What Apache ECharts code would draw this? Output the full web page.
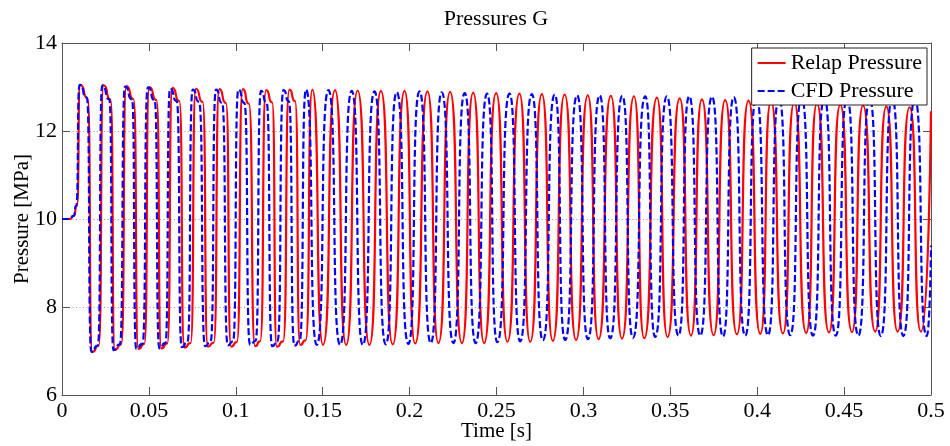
<!DOCTYPE html>
<html>
<head>
<meta charset="utf-8">
<script src="https://cdn.jsdelivr.net/npm/echarts@6/dist/echarts.min.js"></script>
<style>html,body{margin:0;padding:0;background:#fff}#chart{width:950px;height:446px}</style>
</head>
<body>
<div id="chart"></div>
<script>
// Values: [time s, pressure MPa]
const relapPoints = [
 [0,10.0],[0.0045,10.0],[0.0068,10.07],[0.0085,10.3],
 [0.0105,13.05],[0.0147,12.75],[0.0174,6.98],[0.0211,7.12],
 [0.0239,13.04],[0.0279,12.72],[0.0304,7.03],[0.0341,7.15],
 [0.0370,13.02],[0.0412,12.72],[0.0439,7.05],[0.0474,7.16],
 [0.0502,13.00],[0.0544,12.70],[0.0571,7.06],[0.0606,7.17],
 [0.0635,12.98],[0.0675,12.68],[0.0704,7.08],[0.0740,7.18],
 [0.0770,12.96],[0.0809,12.66],[0.0839,7.10],[0.0873,7.19],
 [0.0905,12.95],[0.0943,12.64],[0.0973,7.10],[0.1006,7.20],
 [0.1040,12.95],[0.1075,12.62],[0.1111,7.11],[0.1140,7.22],
 [0.1174,12.93],[0.1209,12.65],[0.1236,7.10],[0.1272,7.22],
 [0.1308,12.94],[0.1341,12.68],[0.1370,7.14],[0.1402,7.24],
 [0.1440,12.94],[0.1502,7.14],
 [0.1571,12.93],[0.1635,7.14],
 [0.1701,12.92],[0.1769,7.14],
 [0.1835,12.91],[0.1903,7.15],
 [0.1971,12.91],[0.2032,7.17],
 [0.2103,12.90],[0.2166,7.18],
 [0.2233,12.89],[0.2301,7.18],
 [0.2366,12.87],[0.2429,7.18],
 [0.2498,12.86],[0.2563,7.21],
 [0.2632,12.85],[0.2694,7.21],
 [0.2761,12.84],[0.2824,7.23],
 [0.2892,12.83],[0.2958,7.25],
 [0.3025,12.81],[0.3087,7.27],
 [0.3158,12.80],[0.3222,7.28],
 [0.3291,12.79],[0.3350,7.29],
 [0.3423,12.76],[0.3484,7.32],
 [0.3554,12.74],[0.3619,7.35],
 [0.3682,12.72],[0.3749,7.36],
 [0.3816,12.70],[0.3883,7.38],
 [0.3950,12.69],[0.4018,7.39],
 [0.4079,12.67],[0.4148,7.40],
 [0.4213,12.65],[0.4282,7.41],
 [0.4344,12.62],[0.4413,7.42],
 [0.4478,12.60],[0.4545,7.43],
 [0.4609,12.58],[0.4679,7.44],
 [0.4743,12.56],[0.4808,7.44],
 [0.4877,12.54],[0.4942,7.44],
 [0.5,12.45]
];
const cfdPoints = [
 [0,10.0],[0.0045,10.0],[0.0066,10.07],[0.0082,10.3],
 [0.0101,13.05],[0.0143,12.76],[0.0169,6.98],[0.0206,7.12],
 [0.0232,13.04],[0.0272,12.72],[0.0296,7.02],[0.0333,7.15],
 [0.0363,13.01],[0.0403,12.72],[0.0427,7.05],[0.0463,7.16],
 [0.0494,12.99],[0.0533,12.70],[0.0560,7.06],[0.0595,7.18],
 [0.0622,12.96],[0.0660,12.68],[0.0689,7.09],[0.0722,7.20],
 [0.0752,12.94],[0.0789,12.66],[0.0823,7.11],[0.0855,7.21],
 [0.0886,12.94],[0.0921,12.64],[0.0954,7.13],[0.0984,7.22],
 [0.1015,12.94],[0.1049,12.64],[0.1082,7.14],[0.1114,7.23],
 [0.1145,12.91],[0.1177,12.65],[0.1209,7.11],[0.1240,7.22],
 [0.1274,12.93],[0.1305,12.68],[0.1337,7.12],[0.1367,7.23],
 [0.1404,12.94],[0.1466,7.14],
 [0.1533,12.93],[0.1600,7.14],
 [0.1667,12.91],[0.1731,7.14],
 [0.1798,12.90],[0.1863,7.15],
 [0.1926,12.88],[0.1993,7.16],
 [0.2057,12.90],[0.2122,7.18],
 [0.2185,12.88],[0.2252,7.18],
 [0.2317,12.86],[0.2380,7.18],
 [0.2446,12.85],[0.2505,7.20],
 [0.2575,12.85],[0.2636,7.22],
 [0.2703,12.84],[0.2767,7.24],
 [0.2835,12.83],[0.2895,7.25],
 [0.2964,12.81],[0.3026,7.27],
 [0.3094,12.81],[0.3154,7.29],
 [0.3224,12.80],[0.3285,7.30],
 [0.3356,12.79],[0.3413,7.32],
 [0.3480,12.79],[0.3547,7.35],
 [0.3609,12.79],[0.3672,7.35],
 [0.3740,12.78],[0.3803,7.33],
 [0.3865,12.77],[0.3931,7.35],
 [0.3995,12.77],[0.4062,7.36],
 [0.4125,12.76],[0.4190,7.36],
 [0.4255,12.76],[0.4321,7.35],
 [0.4386,12.75],[0.4452,7.35],
 [0.4517,12.75],[0.4582,7.35],
 [0.4647,12.74],[0.4711,7.34],
 [0.4777,12.74],[0.4841,7.34],
 [0.4907,12.73],[0.4975,7.34],
 [0.5,9.4]
];
const seriesNames = ['Relap Pressure', 'CFD Pressure'];
const titleText = 'Pressures G';
const xName = 'Time [s]';
const yName = 'Pressure [MPa]';
const xRange = [0, 0.5, 0.05];
const yRange = [6, 14, 2];

const FONT = "'Liberation Serif','Times New Roman',serif";
const AX = '#555';
const chart = echarts.init(document.getElementById('chart'), null, {renderer: 'canvas'});
const tickCommon = {show: true, inside: true, length: 8, lineStyle: {color: AX, width: 1}};
chart.setOption({
  animation: false,
  backgroundColor: '#fff',
  title: {
    text: titleText, left: 496, top: 8, textAlign: 'center', padding: 0,
    textStyle: {fontFamily: FONT, fontSize: 22, fontWeight: 'normal', color: '#000'}
  },
  legend: {
    data: seriesNames, orient: 'vertical', right: 23, top: 48,
    padding: [4, 5, 3, 5], itemGap: 6, itemWidth: 28, itemHeight: 14,
    backgroundColor: '#fff', borderColor: '#222', borderWidth: 1,
    itemStyle: {opacity: 0, borderWidth: 0},
    textStyle: {fontFamily: FONT, fontSize: 22, color: '#000', lineHeight: 22}
  },
  grid: {left: 62, right: 19, top: 43, bottom: 51, containLabel: false, outerBoundsMode: 'none'},
  xAxis: [{
    type: 'value', min: xRange[0], max: xRange[1], interval: xRange[2],
    name: xName, nameLocation: 'middle', nameGap: 26, nameMoveOverlap: false,
    nameTextStyle: {fontFamily: FONT, fontSize: 21, color: '#000'},
    axisLine: {show: true, onZero: false, lineStyle: {color: AX, width: 1}},
    axisTick: tickCommon,
    axisLabel: {fontFamily: FONT, fontSize: 22, color: '#000', margin: 5,
      formatter: v => String(Math.round(v * 100) / 100)},
    splitLine: {show: false}
  }, {
    type: 'value', position: 'top', min: xRange[0], max: xRange[1], interval: xRange[2],
    axisLine: {show: true, onZero: false, lineStyle: {color: AX, width: 1}},
    axisTick: tickCommon, axisLabel: {show: false}, splitLine: {show: false}
  }],
  yAxis: [{
    type: 'value', min: yRange[0], max: yRange[1], interval: yRange[2],
    name: yName, nameLocation: 'middle', nameGap: 29, nameMoveOverlap: false,
    nameTextStyle: {fontFamily: FONT, fontSize: 21, color: '#000'},
    axisLine: {show: true, onZero: false, lineStyle: {color: AX, width: 1}},
    axisTick: tickCommon,
    axisLabel: {fontFamily: FONT, fontSize: 22, color: '#000', margin: 5},
    splitLine: {show: true, lineStyle: {color: '#999', width: 1, type: [1, 2.5]}}
  }, {
    type: 'value', position: 'right', min: yRange[0], max: yRange[1], interval: yRange[2],
    axisLine: {show: true, onZero: false, lineStyle: {color: AX, width: 1}},
    axisTick: tickCommon, axisLabel: {show: false}, splitLine: {show: false}
  }],
  series: [{
    name: seriesNames[0], type: 'line', data: relapPoints, symbol: 'none',
    smooth: 0.75, smoothMonotone: 'x', sampling: null,
    lineStyle: {color: '#ff0000', width: 2.2, type: 'solid'},
    itemStyle: {color: '#ff0000'}
  }, {
    name: seriesNames[1], type: 'line', data: cfdPoints, symbol: 'none',
    smooth: 0.75, smoothMonotone: 'x', sampling: null,
    lineStyle: {color: '#0000ff', width: 2.2, type: [7, 3]},
    itemStyle: {color: '#0000ff'}
  }]
});
</script>
</body>
</html>
